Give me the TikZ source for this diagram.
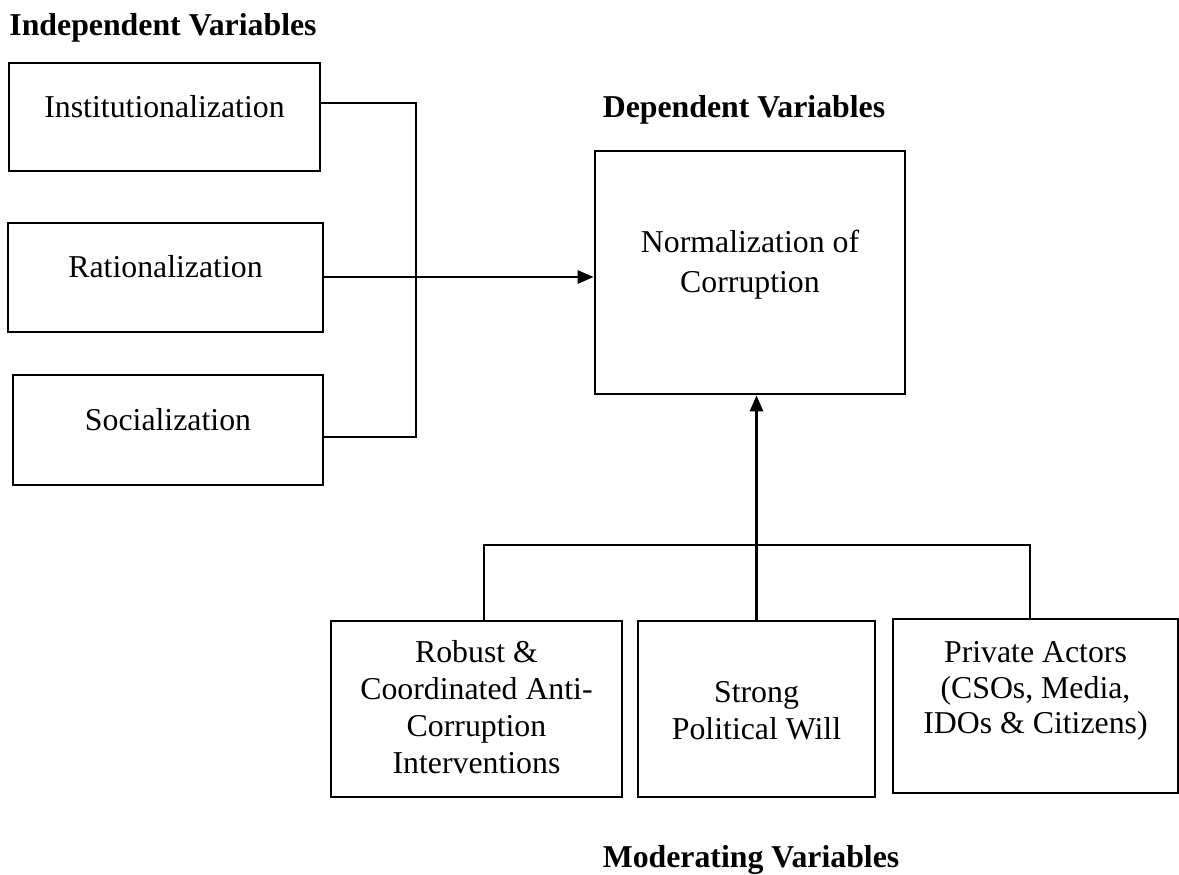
\documentclass[tikz,border=0pt]{standalone}
\usepackage{fontspec}
\setmainfont{Liberation Serif}
\usetikzlibrary{arrows.meta}
\begin{document}
\begin{tikzpicture}[x=0.5pt,y=-0.5pt,
  kasten/.style={draw,line width=1.35pt,inner sep=0pt},
  beschr/.style={inner sep=0pt,align=center,font=\fontsize{15.9}{18.5}\selectfont},
  titel/.style={inner sep=0pt,font=\fontsize{15.9}{18.5}\selectfont\bfseries},
  linie/.style={line width=0.65pt},
  pfeil/.style={line width=1.4pt,-{Triangle[length=8pt,width=6.5pt]}}]
\useasboundingbox (0,0) rectangle (1179,874);
% Ueberschriften der drei Gruppen
\node[titel,anchor=base west] (tunab) at (9,35) {Independent Variables};
\node[titel,anchor=base] (tabh) at (744,117) {Dependent Variables};
\node[titel,anchor=base] (tmod) at (751,867) {Moderating Variables};
% Kaesten links, unabhaengige Variablen
\node[kasten,minimum width=155.5pt,minimum height=54pt] (inst) at (164.5,117) {};
\node[kasten,minimum width=157.5pt,minimum height=54.5pt] (rat) at (165.5,277.5) {};
\node[kasten,minimum width=155pt,minimum height=55pt] (soc) at (168,430) {};
\node[beschr,anchor=base] (instT) at (164.5,117) {Institutionalization};
\node[beschr,anchor=base] (ratT) at (165.5,277) {Rationalization};
\node[beschr,anchor=base] (socT) at (168,430) {Socialization};
% abhaengige Variable
\node[kasten,minimum width=155pt,minimum height=121.5pt] (norm) at (750,272.5) {};
\node[beschr,anchor=north,font=\fontsize{15.9}{20}\selectfont] (normT) at (750,230) {Normalization of\\Corruption};
% Kaesten unten, moderierende Variablen
\node[kasten,minimum width=145.5pt,minimum height=88pt] (robust) at (476.5,709) {};
\node[kasten,minimum width=118.5pt,minimum height=88pt] (strong) at (756.5,709) {};
\node[kasten,minimum width=142.5pt,minimum height=87pt] (private) at (1035.5,706) {};
\node[beschr,anchor=north] (robustT) at (476.5,640) {Robust \&\\Coordinated Anti-\\Corruption\\Interventions};
\node[beschr,anchor=north] (strongT) at (756.5,681) {Strong\\Political Will};
\node[beschr,anchor=north,font=\fontsize{15.9}{17.8}\selectfont] (privateT) at (1035.5,641) {Private Actors\\(CSOs, Media,\\IDOs \& Citizens)};
% Klammer links und Pfeil nach rechts
\coordinate (ko) at (416,103);
\coordinate (km) at (416,277);
\coordinate (ku) at (416,437);
\draw[linie] (inst.east |- ko) -- (ko) -- (ku) -- (soc.east |- ku);
\draw[linie] (rat.east |- km) -- (km);
\draw[pfeil] (km) -- (km -| norm.west);
% Klammer unten und Pfeil nach oben
\coordinate (ul) at (484,545);
\coordinate (ur) at (1030,545);
\draw[linie] (robust.north -| ul) -- (ul) -- (ur) -- (private.north -| ur);
\draw[pfeil] (strong.north) -- (strong.north |- norm.south);
\end{tikzpicture}
\end{document}
